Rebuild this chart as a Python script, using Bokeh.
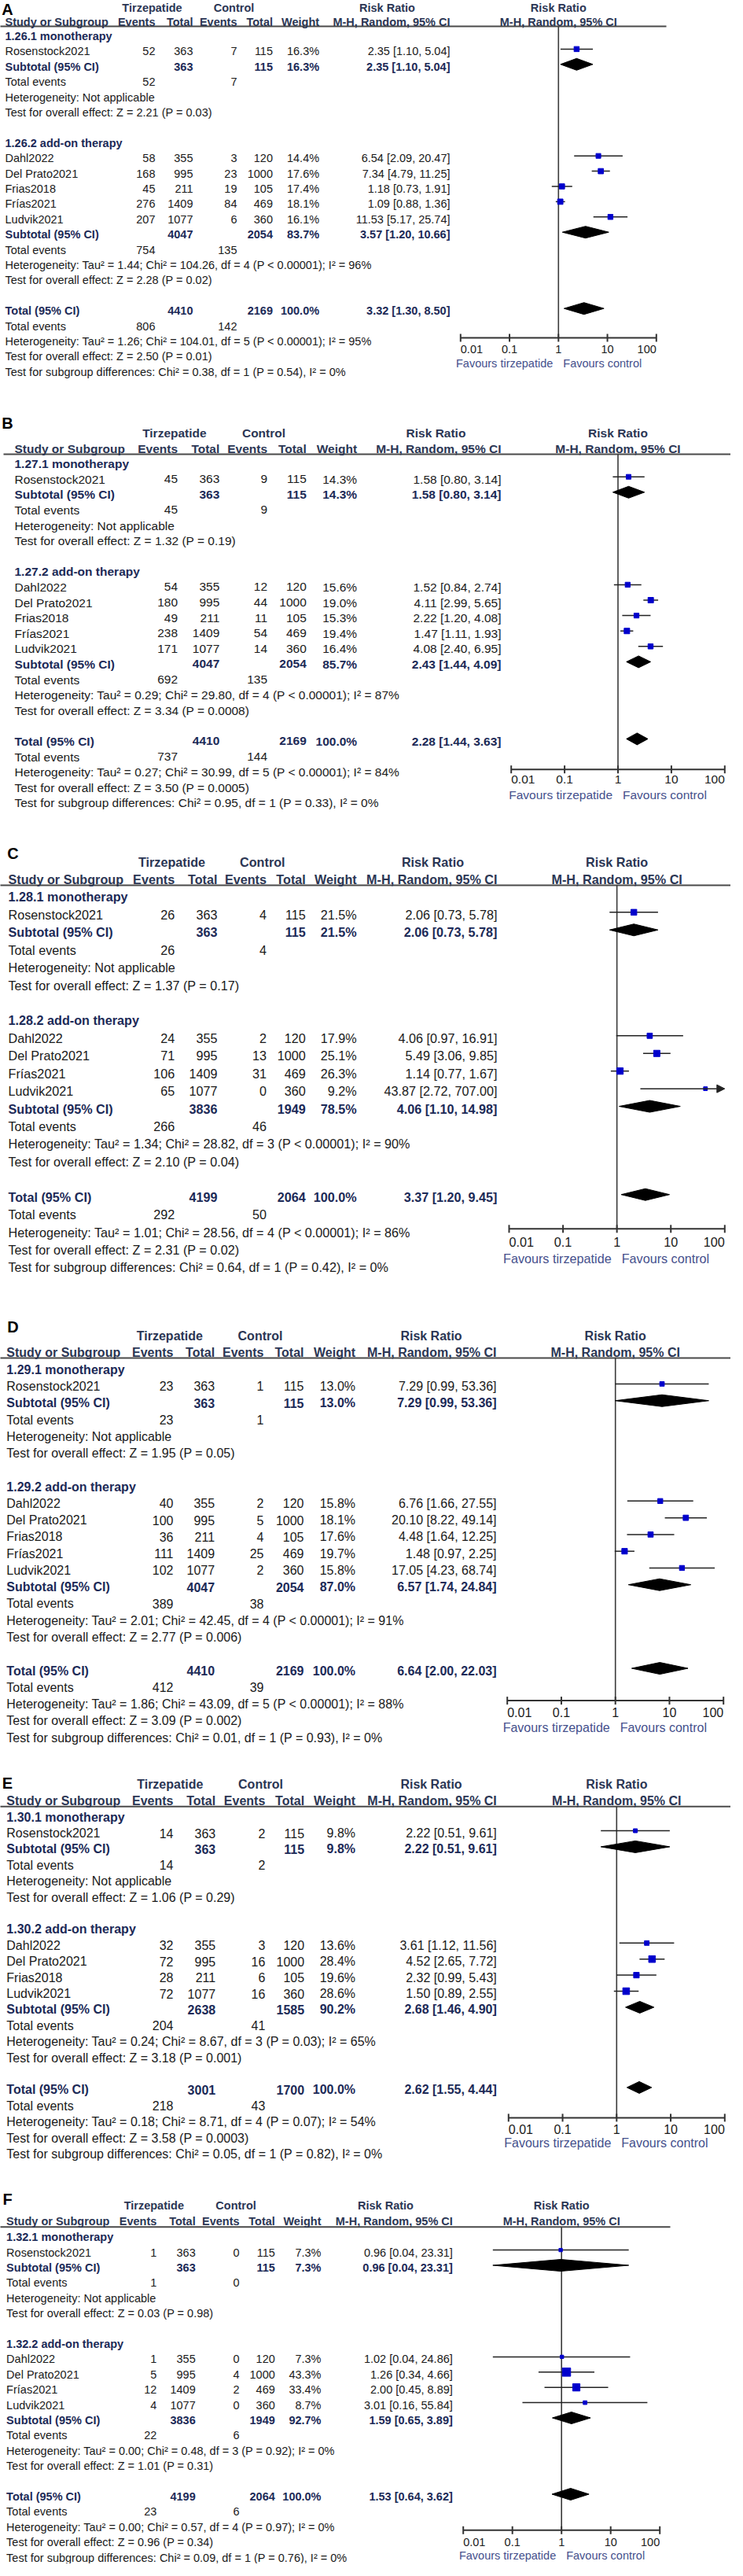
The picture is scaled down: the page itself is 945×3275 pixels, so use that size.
import math
from bokeh.plotting import figure
from bokeh.layouts import column
from bokeh.models import Range1d, LinearScale, Arrow, NormalHead
from bokeh.embed import file_html
from bokeh.resources import INLINE
from bokeh.core.properties import value

FONT = "Liberation Sans"
PAGE_W = 929

# ---------------- data ----------------
TICKS = [0.01, 0.1, 1, 10, 100]
TICK_LABELS = ["0.01", "0.1", "1", "10", "100"]

# Panel A
A_codes = ["1.26.1 monotherapy", "1.26.2 add-on therapy"]
A_study = ["Rosenstock2021", "Dahl2022", "Del Prato2021", "Frias2018", "Frías2021", "Ludvik2021"]
A_group = [1, 2, 2, 2, 2, 2]
A_t_ev = [52, 58, 168, 45, 276, 207]
A_t_tot = [363, 355, 995, 211, 1409, 1077]
A_c_ev = [7, 3, 23, 19, 84, 6]
A_c_tot = [115, 120, 1000, 105, 469, 360]
A_weight = [16.3, 14.4, 17.6, 17.4, 18.1, 16.1]
A_rr = [2.35, 6.54, 7.34, 1.18, 1.09, 11.53]
A_lo = [1.10, 2.09, 4.79, 0.73, 0.88, 5.17]
A_hi = [5.04, 20.47, 11.25, 1.91, 1.36, 25.74]
A_sub_t_tot = [363, 4047]
A_sub_c_tot = [115, 2054]
A_sub_weight = [16.3, 83.7]
A_sub_rr = [2.35, 3.57]
A_sub_lo = [1.10, 1.20]
A_sub_hi = [5.04, 10.66]
A_sub_t_ev = [52, 754]
A_sub_c_ev = [7, 135]
A_sub_het = ["Not applicable", "Tau² = 1.44; Chi² = 104.26, df = 4 (P < 0.00001); I² = 96%"]
A_sub_z = ["Z = 2.21 (P = 0.03)", "Z = 2.28 (P = 0.02)"]
A_total_n = [4410, 2169]
A_total_ci = [3.32, 1.30, 8.50]
A_total_events = [806, 142]
A_total_het = "Tau² = 1.26; Chi² = 104.01, df = 5 (P < 0.00001); I² = 95%"
A_total_z = "Z = 2.50 (P = 0.01)"
A_subgroup_test = "Chi² = 0.38, df = 1 (P = 0.54), I² = 0%"

# Panel B
B_codes = ["1.27.1 monotherapy", "1.27.2 add-on therapy"]
B_study = ["Rosenstock2021", "Dahl2022", "Del Prato2021", "Frias2018", "Frías2021", "Ludvik2021"]
B_group = [1, 2, 2, 2, 2, 2]
B_t_ev = [45, 54, 180, 49, 238, 171]
B_t_tot = [363, 355, 995, 211, 1409, 1077]
B_c_ev = [9, 12, 44, 11, 54, 14]
B_c_tot = [115, 120, 1000, 105, 469, 360]
B_weight = [14.3, 15.6, 19.0, 15.3, 19.4, 16.4]
B_rr = [1.58, 1.52, 4.11, 2.22, 1.47, 4.08]
B_lo = [0.80, 0.84, 2.99, 1.20, 1.11, 2.40]
B_hi = [3.14, 2.74, 5.65, 4.08, 1.93, 6.95]
B_sub_t_tot = [363, 4047]
B_sub_c_tot = [115, 2054]
B_sub_weight = [14.3, 85.7]
B_sub_rr = [1.58, 2.43]
B_sub_lo = [0.80, 1.44]
B_sub_hi = [3.14, 4.09]
B_sub_t_ev = [45, 692]
B_sub_c_ev = [9, 135]
B_sub_het = ["Not applicable", "Tau² = 0.29; Chi² = 29.80, df = 4 (P < 0.00001); I² = 87%"]
B_sub_z = ["Z = 1.32 (P = 0.19)", "Z = 3.34 (P = 0.0008)"]
B_total_n = [4410, 2169]
B_total_ci = [2.28, 1.44, 3.63]
B_total_events = [737, 144]
B_total_het = "Tau² = 0.27; Chi² = 30.99, df = 5 (P < 0.00001); I² = 84%"
B_total_z = "Z = 3.50 (P = 0.0005)"
B_subgroup_test = "Chi² = 0.95, df = 1 (P = 0.33), I² = 0%"

# Panel C
C_codes = ["1.28.1 monotherapy", "1.28.2 add-on therapy"]
C_study = ["Rosenstock2021", "Dahl2022", "Del Prato2021", "Frías2021", "Ludvik2021"]
C_group = [1, 2, 2, 2, 2]
C_t_ev = [26, 24, 71, 106, 65]
C_t_tot = [363, 355, 995, 1409, 1077]
C_c_ev = [4, 2, 13, 31, 0]
C_c_tot = [115, 120, 1000, 469, 360]
C_weight = [21.5, 17.9, 25.1, 26.3, 9.2]
C_rr = [2.06, 4.06, 5.49, 1.14, 43.87]
C_lo = [0.73, 0.97, 3.06, 0.77, 2.72]
C_hi = [5.78, 16.91, 9.85, 1.67, 707.00]
C_sub_t_tot = [363, 3836]
C_sub_c_tot = [115, 1949]
C_sub_weight = [21.5, 78.5]
C_sub_rr = [2.06, 4.06]
C_sub_lo = [0.73, 1.10]
C_sub_hi = [5.78, 14.98]
C_sub_t_ev = [26, 266]
C_sub_c_ev = [4, 46]
C_sub_het = ["Not applicable", "Tau² = 1.34; Chi² = 28.82, df = 3 (P < 0.00001); I² = 90%"]
C_sub_z = ["Z = 1.37 (P = 0.17)", "Z = 2.10 (P = 0.04)"]
C_total_n = [4199, 2064]
C_total_ci = [3.37, 1.20, 9.45]
C_total_events = [292, 50]
C_total_het = "Tau² = 1.01; Chi² = 28.56, df = 4 (P < 0.00001); I² = 86%"
C_total_z = "Z = 2.31 (P = 0.02)"
C_subgroup_test = "Chi² = 0.64, df = 1 (P = 0.42), I² = 0%"

# Panel D
D_codes = ["1.29.1 monotherapy", "1.29.2 add-on therapy"]
D_study = ["Rosenstock2021", "Dahl2022", "Del Prato2021", "Frias2018", "Frías2021", "Ludvik2021"]
D_group = [1, 2, 2, 2, 2, 2]
D_t_ev = [23, 40, 100, 36, 111, 102]
D_t_tot = [363, 355, 995, 211, 1409, 1077]
D_c_ev = [1, 2, 5, 4, 25, 2]
D_c_tot = [115, 120, 1000, 105, 469, 360]
D_weight = [13.0, 15.8, 18.1, 17.6, 19.7, 15.8]
D_rr = [7.29, 6.76, 20.10, 4.48, 1.48, 17.05]
D_lo = [0.99, 1.66, 8.22, 1.64, 0.97, 4.23]
D_hi = [53.36, 27.55, 49.14, 12.25, 2.25, 68.74]
D_sub_t_tot = [363, 4047]
D_sub_c_tot = [115, 2054]
D_sub_weight = [13.0, 87.0]
D_sub_rr = [7.29, 6.57]
D_sub_lo = [0.99, 1.74]
D_sub_hi = [53.36, 24.84]
D_sub_t_ev = [23, 389]
D_sub_c_ev = [1, 38]
D_sub_het = ["Not applicable", "Tau² = 2.01; Chi² = 42.45, df = 4 (P < 0.00001); I² = 91%"]
D_sub_z = ["Z = 1.95 (P = 0.05)", "Z = 2.77 (P = 0.006)"]
D_total_n = [4410, 2169]
D_total_ci = [6.64, 2.00, 22.03]
D_total_events = [412, 39]
D_total_het = "Tau² = 1.86; Chi² = 43.09, df = 5 (P < 0.00001); I² = 88%"
D_total_z = "Z = 3.09 (P = 0.002)"
D_subgroup_test = "Chi² = 0.01, df = 1 (P = 0.93), I² = 0%"

# Panel E
E_codes = ["1.30.1 monotherapy", "1.30.2 add-on therapy"]
E_study = ["Rosenstock2021", "Dahl2022", "Del Prato2021", "Frias2018", "Ludvik2021"]
E_group = [1, 2, 2, 2, 2]
E_t_ev = [14, 32, 72, 28, 72]
E_t_tot = [363, 355, 995, 211, 1077]
E_c_ev = [2, 3, 16, 6, 16]
E_c_tot = [115, 120, 1000, 105, 360]
E_weight = [9.8, 13.6, 28.4, 19.6, 28.6]
E_rr = [2.22, 3.61, 4.52, 2.32, 1.50]
E_lo = [0.51, 1.12, 2.65, 0.99, 0.89]
E_hi = [9.61, 11.56, 7.72, 5.43, 2.55]
E_sub_t_tot = [363, 2638]
E_sub_c_tot = [115, 1585]
E_sub_weight = [9.8, 90.2]
E_sub_rr = [2.22, 2.68]
E_sub_lo = [0.51, 1.46]
E_sub_hi = [9.61, 4.90]
E_sub_t_ev = [14, 204]
E_sub_c_ev = [2, 41]
E_sub_het = ["Not applicable", "Tau² = 0.24; Chi² = 8.67, df = 3 (P = 0.03); I² = 65%"]
E_sub_z = ["Z = 1.06 (P = 0.29)", "Z = 3.18 (P = 0.001)"]
E_total_n = [3001, 1700]
E_total_ci = [2.62, 1.55, 4.44]
E_total_events = [218, 43]
E_total_het = "Tau² = 0.18; Chi² = 8.71, df = 4 (P = 0.07); I² = 54%"
E_total_z = "Z = 3.58 (P = 0.0003)"
E_subgroup_test = "Chi² = 0.05, df = 1 (P = 0.82), I² = 0%"

# Panel F
F_codes = ["1.32.1 monotherapy", "1.32.2 add-on therapy"]
F_study = ["Rosenstock2021", "Dahl2022", "Del Prato2021", "Frías2021", "Ludvik2021"]
F_group = [1, 2, 2, 2, 2]
F_t_ev = [1, 1, 5, 12, 4]
F_t_tot = [363, 355, 995, 1409, 1077]
F_c_ev = [0, 0, 4, 2, 0]
F_c_tot = [115, 120, 1000, 469, 360]
F_weight = [7.3, 7.3, 43.3, 33.4, 8.7]
F_rr = [0.96, 1.02, 1.26, 2.00, 3.01]
F_lo = [0.04, 0.04, 0.34, 0.45, 0.16]
F_hi = [23.31, 24.86, 4.66, 8.89, 55.84]
F_sub_t_tot = [363, 3836]
F_sub_c_tot = [115, 1949]
F_sub_weight = [7.3, 92.7]
F_sub_rr = [0.96, 1.59]
F_sub_lo = [0.04, 0.65]
F_sub_hi = [23.31, 3.89]
F_sub_t_ev = [1, 22]
F_sub_c_ev = [0, 6]
F_sub_het = ["Not applicable", "Tau² = 0.00; Chi² = 0.48, df = 3 (P = 0.92); I² = 0%"]
F_sub_z = ["Z = 0.03 (P = 0.98)", "Z = 1.01 (P = 0.31)"]
F_total_n = [4199, 2064]
F_total_ci = [1.53, 0.64, 3.62]
F_total_events = [23, 6]
F_total_het = "Tau² = 0.00; Chi² = 0.57, df = 4 (P = 0.97); I² = 0%"
F_total_z = "Z = 0.96 (P = 0.34)"
F_subgroup_test = "Chi² = 0.09, df = 1 (P = 0.76), I² = 0%"

G = globals()
PANEL_KEYS = ["A", "B", "C", "D", "E", "F"]
FIELDS = ["codes", "study", "group", "t_ev", "t_tot", "c_ev", "c_tot", "weight", "rr", "lo", "hi",
          "sub_t_tot", "sub_c_tot", "sub_weight", "sub_rr", "sub_lo", "sub_hi", "sub_t_ev", "sub_c_ev",
          "sub_het", "sub_z", "total_n", "total_ci", "total_events", "total_het", "total_z", "subgroup_test"]
DATA = {k: {f: G[k + "_" + f] for f in FIELDS} for k in PANEL_KEYS}

# ---------------- layout (page pixel positions) ----------------
LAYOUT = {
    "A": dict(top=8, bottom=515, label=(17, 19), hdr1=17, hdr2=35, uline=41, ul_x=(2, 855),
              row0=53.5, dy=19.4, axis_y=437, tick_y=451, fav_y=469, x001=593.3, x100=842.3,
              cols=dict(study=14, tev=205, ttot=253, cev=309, ctot=354.5, wt=413.6, rr=580),
              tirz_c=201, ctrl_c=305, rrhdr_c=500, fs=14.5),
    "B": dict(top=515, bottom=1062, label=(17, 545), hdr1=558.2, hdr2=578, uline=585, ul_x=(12, 945),
              row0=597.1, dy=19.6, axis_y=985.7, tick_y=998.6, fav_y=1017.7, x001=657.7, x100=929.3,
              cols=dict(study=26, tev=233.6, ttot=286.8, cev=347.6, ctot=397.3, wt=461.6, rr=645),
              tirz_c=229.4, ctrl_c=343, rrhdr_c=562, fs=15.5),
    "C": dict(top=1062, bottom=1660, label=(24, 1092), hdr1=1103.3, hdr2=1125, uline=1133, ul_x=(4, 945),
              row0=1147.9, dy=22.43, axis_y=1569.8, tick_y=1586.3, fav_y=1607.4, x001=655, x100=929.3,
              cols=dict(study=18, tev=229.7, ttot=284, cev=346.5, ctot=396.3, wt=461.2, rr=640),
              tirz_c=226, ctrl_c=341.3, rrhdr_c=558, fs=16.2),
    "D": dict(top=1660, bottom=2245, label=(24, 1694.4), hdr1=1706, hdr2=1727, uline=1734, ul_x=(2, 942),
              row0=1748.7, dy=21.27, axis_y=2169.6, tick_y=2184, fav_y=2204, x001=652.7, x100=927.7,
              cols=dict(study=15.8, tev=228, ttot=280.6, cev=343, ctot=394, wt=459.5, rr=639),
              tirz_c=223.4, ctrl_c=338.5, rrhdr_c=556, fs=16),
    "E": dict(top=2245, bottom=2775, label=(17, 2274.4), hdr1=2276.2, hdr2=2296.5, uline=2304.3, ul_x=(2, 945),
              row0=2317.6, dy=20.4, axis_y=2699.9, tick_y=2714.6, fav_y=2732, x001=654.3, x100=929.3,
              cols=dict(study=15.8, tev=228, ttot=281.7, cev=344.8, ctot=394.6, wt=459.5, rr=639.3),
              tirz_c=223.8, ctrl_c=339, rrhdr_c=556, fs=16),
    "F": dict(top=2775, bottom=3267, label=(17, 2803), hdr1=2811.7, hdr2=2831.8, uline=2838.8, ul_x=(3, 860),
              row0=2851.7, dy=19.4, axis_y=3224.3, tick_y=3239, fav_y=3256, x001=596.7, x100=846.7,
              cols=dict(study=15.6, tev=206.8, ttot=256.2, cev=312.1, ctot=357.3, wt=416, rr=583.3),
              tirz_c=203.3, ctrl_c=307.6, rrhdr_c=498, fs=14.5),
}

TXT = "#1a1a1a"
HDR = "#2b3654"
BOLD = "#1c2a57"
FAV = "#45508c"
BLUE = "#0000cc"
LINE = "#222222"
MARK_DY = -3.0
DIA_H = 7.5


def fmt_ci(r, l, h):
    return f"{r:.2f} [{l:.2f}, {h:.2f}]"


def build(key):
    D = DATA[key]
    L = LAYOUT[key]
    fs = L["fs"]
    c = L["cols"]
    X0, X1 = L["x001"], L["x100"]
    dec = (X1 - X0) / 4.0
    lo_lim = 10 ** (-2 - (X0 - 8) / dec)
    hi_lim = 10 ** (2 + (8 + PAGE_W - X1) / dec)
    H = int(round(L["bottom"] - L["top"]))
    p = figure(width=PAGE_W, height=H, x_axis_type="log",
               x_range=Range1d(lo_lim, hi_lim), y_range=Range1d(L["bottom"], L["top"]),
               x_axis_location=None, y_axis_location=None, toolbar_location=None,
               output_backend="svg", min_border=0, outline_line_color=None,
               background_fill_color="white", border_fill_color="white")
    p.extra_x_ranges = {"px": Range1d(8, 8 + PAGE_W)}
    p.extra_x_scales = {"px": LinearScale()}
    p.xgrid.visible = False
    p.ygrid.visible = False

    def y(i):
        return L["row0"] + i * L["dy"]

    txt = []

    def add(x, yy, s, align="left", bold=False, color=TXT, rng="px", xoff=0, size=None):
        txt.append(dict(rng=rng, x=x, y=yy, s=s, align=align, bold=bold, color=color,
                        xoff=xoff, size=size or fs))

    # panel letter
    add(L["label"][0], L["label"][1], key, "center", True, "#000000", size=20)
    # headers
    add(L["tirz_c"], L["hdr1"], "Tirzepatide", "center", True, HDR)
    add(L["ctrl_c"], L["hdr1"], "Control", "center", True, HDR)
    add(L["rrhdr_c"], L["hdr1"], "Risk Ratio", "center", True, HDR)
    add(c["study"], L["hdr2"], "Study or Subgroup", "left", True, HDR)
    for col, s in [("tev", "Events"), ("ttot", "Total"), ("cev", "Events"), ("ctot", "Total"),
                   ("wt", "Weight"), ("rr", "M-H, Random, 95% CI")]:
        add(c[col], L["hdr2"], s, "right", True, HDR)
    add(1, L["hdr1"], "Risk Ratio", "center", True, HDR, rng="data")
    add(1, L["hdr2"], "M-H, Random, 95% CI", "center", True, HDR, rng="data")

    st_rr, st_lo, st_hi, st_y, st_w = [], [], [], [], []
    dia = []
    row = 0
    for g in (1, 2):
        add(c["study"], y(row), D["codes"][g - 1], bold=True, color=BOLD)
        row += 1
        for i, gg in enumerate(D["group"]):
            if gg != g:
                continue
            yy = y(row)
            add(c["study"], yy, D["study"][i])
            add(c["tev"], yy, str(D["t_ev"][i]), "right")
            add(c["ttot"], yy, str(D["t_tot"][i]), "right")
            add(c["cev"], yy, str(D["c_ev"][i]), "right")
            add(c["ctot"], yy, str(D["c_tot"][i]), "right")
            add(c["wt"], yy, f"{D['weight'][i]:.1f}%", "right")
            add(c["rr"], yy, fmt_ci(D["rr"][i], D["lo"][i], D["hi"][i]), "right")
            st_rr.append(D["rr"][i]); st_lo.append(D["lo"][i]); st_hi.append(D["hi"][i])
            st_y.append(yy + MARK_DY); st_w.append(D["weight"][i])
            row += 1
        j = g - 1
        yy = y(row)
        add(c["study"], yy, "Subtotal (95% CI)", bold=True, color=BOLD)
        add(c["ttot"], yy, str(D["sub_t_tot"][j]), "right", True, BOLD)
        add(c["ctot"], yy, str(D["sub_c_tot"][j]), "right", True, BOLD)
        add(c["wt"], yy, f"{D['sub_weight'][j]:.1f}%", "right", True, BOLD)
        add(c["rr"], yy, fmt_ci(D["sub_rr"][j], D["sub_lo"][j], D["sub_hi"][j]), "right", True, BOLD)
        dia.append((D["sub_rr"][j], D["sub_lo"][j], D["sub_hi"][j], yy + MARK_DY))
        row += 1
        yy = y(row)
        add(c["study"], yy, "Total events")
        add(c["tev"], yy, str(D["sub_t_ev"][j]), "right")
        add(c["cev"], yy, str(D["sub_c_ev"][j]), "right")
        row += 1
        add(c["study"], y(row), "Heterogeneity: " + D["sub_het"][j])
        row += 1
        add(c["study"], y(row), "Test for overall effect: " + D["sub_z"][j])
        row += 2
    yy = y(row)
    add(c["study"], yy, "Total (95% CI)", bold=True, color=BOLD)
    add(c["ttot"], yy, str(D["total_n"][0]), "right", True, BOLD)
    add(c["ctot"], yy, str(D["total_n"][1]), "right", True, BOLD)
    add(c["wt"], yy, "100.0%", "right", True, BOLD)
    tci = D["total_ci"]
    add(c["rr"], yy, fmt_ci(*tci), "right", True, BOLD)
    dia.append((tci[0], tci[1], tci[2], yy + MARK_DY))
    row += 1
    yy = y(row)
    add(c["study"], yy, "Total events")
    add(c["tev"], yy, str(D["total_events"][0]), "right")
    add(c["cev"], yy, str(D["total_events"][1]), "right")
    row += 1
    add(c["study"], y(row), "Heterogeneity: " + D["total_het"])
    row += 1
    add(c["study"], y(row), "Test for overall effect: " + D["total_z"])
    row += 1
    add(c["study"], y(row), "Test for subgroup differences: " + D["subgroup_test"])

    # axis labels
    ay = L["axis_y"]
    add(TICKS[0], L["tick_y"], TICK_LABELS[0], "left", False, TXT, rng="data")
    for t, lab in zip(TICKS[1:-1], TICK_LABELS[1:-1]):
        add(t, L["tick_y"], lab, "center", False, TXT, rng="data")
    add(TICKS[-1], L["tick_y"], TICK_LABELS[-1], "right", False, TXT, rng="data")
    add(1, L["fav_y"], "Favours tirzepatide", "right", False, FAV, rng="data", xoff=-7)
    add(1, L["fav_y"], "Favours control", "left", False, FAV, rng="data", xoff=6)

    # ---- lines ----
    p.segment(x0=[L["ul_x"][0]], x1=[L["ul_x"][1]], y0=[L["uline"]], y1=[L["uline"]],
              line_color="#4a4a4a", line_width=2, x_range_name="px")
    p.segment(x0=[1], x1=[1], y0=[L["uline"]], y1=[ay], line_color="#3a3a3a", line_width=1.6)
    p.segment(x0=[TICKS[0]], x1=[TICKS[-1]], y0=[ay], y1=[ay], line_color="#333333", line_width=2)
    p.segment(x0=TICKS, x1=TICKS, y0=[ay - 5] * len(TICKS), y1=[ay + 5] * len(TICKS),
              line_color="#333333", line_width=2)

    # confidence intervals
    xmax = TICKS[-1]
    seg_x0, seg_x1, seg_y = [], [], []
    for r, l, h, yy in zip(st_rr, st_lo, st_hi, st_y):
        if h > xmax:
            p.add_layout(Arrow(end=NormalHead(size=10, fill_color=LINE, line_color=LINE),
                               x_start=l, y_start=yy, x_end=xmax, y_end=yy,
                               line_color=LINE, line_width=1.5))
        else:
            seg_x0.append(l); seg_x1.append(h); seg_y.append(yy)
    p.segment(x0=seg_x0, x1=seg_x1, y0=seg_y, y1=seg_y, line_color=LINE, line_width=1.5)
    sizes = [1.6 * math.sqrt(w) for w in st_w]
    p.scatter(x=st_rr, y=st_y, marker="square", size=sizes, fill_color=BLUE, line_color=BLUE)

    xs = [[l, r, h, r] for (r, l, h, yy) in dia]
    ys = [[yy, yy - DIA_H, yy, yy + DIA_H] for (r, l, h, yy) in dia]
    p.patches(xs=xs, ys=ys, fill_color="#000000", line_color="#000000")

    # ---- texts, grouped by style ----
    groups = {}
    for t in txt:
        k = (t["rng"], t["align"], t["bold"], t["color"], t["xoff"], t["size"])
        groups.setdefault(k, []).append(t)
    for (rng, align, bold, color, xoff, size), items in groups.items():
        kw = dict(x=[t["x"] for t in items], y=[t["y"] for t in items], text=[t["s"] for t in items],
                  text_font=value(FONT), text_font_size=value(f"{size}px"),
                  text_font_style="bold" if bold else "normal", text_color=color,
                  text_align=align, text_baseline="middle", x_offset=xoff)
        if rng == "px":
            kw["x_range_name"] = "px"
        p.text(**kw)
    return p


figs = [build(k) for k in PANEL_KEYS]
layout = column(*figs, spacing=0)
open("out.html", "w").write(file_html(layout, INLINE, title="Forest plots"))
